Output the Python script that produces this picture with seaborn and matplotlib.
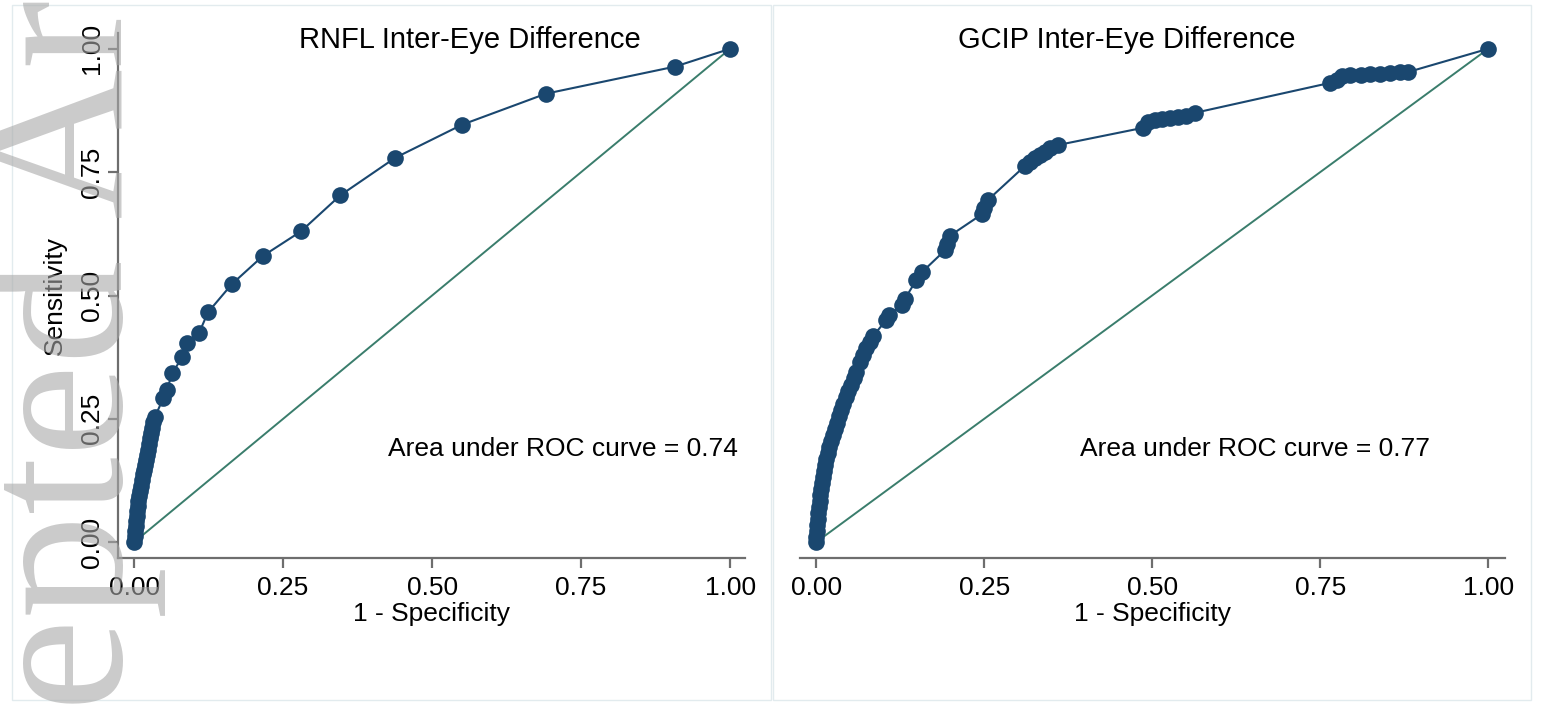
import numpy as np
import pandas as pd
import matplotlib
matplotlib.use('Agg')
import matplotlib.pyplot as plt
import seaborn as sns
from matplotlib.patches import Rectangle

# ROC points (1 - specificity, sensitivity)
rnfl_fpr = [0.000, 0.002, 0.002, 0.003, 0.003, 0.005, 0.005, 0.007, 0.007, 0.008,
            0.010, 0.012, 0.013, 0.015, 0.017, 0.018, 0.020, 0.022, 0.023, 0.025,
            0.027, 0.029, 0.030, 0.032, 0.035, 0.049, 0.055, 0.064, 0.081, 0.089,
            0.109, 0.124, 0.164, 0.216, 0.280, 0.346, 0.438, 0.550, 0.691, 0.908,
            1.000]
rnfl_tpr = [0.000, 0.012, 0.022, 0.032, 0.043, 0.053, 0.063, 0.074, 0.084, 0.093,
            0.104, 0.114, 0.126, 0.138, 0.146, 0.156, 0.166, 0.176, 0.187, 0.199,
            0.211, 0.221, 0.231, 0.243, 0.254, 0.292, 0.308, 0.343, 0.375, 0.403,
            0.424, 0.466, 0.523, 0.580, 0.630, 0.703, 0.779, 0.846, 0.909, 0.964,
            1.000]

gcip_fpr = [0.000, 0.000, 0.001, 0.001, 0.003, 0.003, 0.004, 0.006, 0.006, 0.007,
            0.009, 0.010, 0.012, 0.013, 0.015, 0.018, 0.019, 0.022, 0.025, 0.028,
            0.031, 0.034, 0.037, 0.040, 0.045, 0.048, 0.052, 0.057, 0.060, 0.065,
            0.070, 0.074, 0.080, 0.085, 0.104, 0.109, 0.128, 0.132, 0.149, 0.158,
            0.192, 0.195, 0.199, 0.247, 0.250, 0.256, 0.311, 0.318, 0.326, 0.333,
            0.341, 0.348, 0.360, 0.487, 0.494, 0.504, 0.515, 0.527, 0.539, 0.551,
            0.563, 0.765, 0.775, 0.783, 0.795, 0.810, 0.824, 0.839, 0.854, 0.869,
            0.881, 1.000]
gcip_tpr = [0.000, 0.010, 0.022, 0.034, 0.047, 0.059, 0.071, 0.083, 0.095, 0.108,
            0.120, 0.132, 0.144, 0.156, 0.168, 0.181, 0.193, 0.205, 0.217, 0.229,
            0.241, 0.256, 0.268, 0.280, 0.294, 0.306, 0.318, 0.333, 0.345, 0.365,
            0.379, 0.394, 0.406, 0.418, 0.450, 0.460, 0.481, 0.493, 0.531, 0.548,
            0.592, 0.604, 0.621, 0.665, 0.677, 0.694, 0.763, 0.771, 0.779, 0.785,
            0.791, 0.799, 0.805, 0.840, 0.852, 0.856, 0.858, 0.860, 0.862, 0.864,
            0.870, 0.931, 0.937, 0.945, 0.947, 0.947, 0.949, 0.949, 0.951, 0.953,
            0.953, 1.000]

ref_line = [0.0, 1.0]
tick_vals = [0.0, 0.25, 0.5, 0.75, 1.0]
tick_labels = ['0.00', '0.25', '0.50', '0.75', '1.00']
titles = ['RNFL Inter-Eye Difference', 'GCIP Inter-Eye Difference']
auc_values = [0.74, 0.77]

sns.set_theme(style='white')
plt.rcParams['font.family'] = ['Liberation Sans', 'DejaVu Sans']
plt.rcParams['text.color'] = 'black'
plt.rcParams['axes.labelcolor'] = 'black'
plt.rcParams['xtick.labelcolor'] = 'black'
plt.rcParams['ytick.labelcolor'] = 'black'

W, H = 1543, 708
fig = plt.figure(figsize=(W / 100, H / 100), dpi=100)

navy = '#1a476f'
teal = '#3a7d6c'
axis_grey = '#6e6e6e'

# panel frames
for x0, x1 in [(12, 771), (773, 1531)]:
    fig.add_artist(Rectangle((x0 / W, 1 - 700 / H), (x1 - x0) / W, 695 / H,
                             transform=fig.transFigure, fill=False,
                             ec='#e2ebee', lw=1.0))

panels = [
    dict(fpr=rnfl_fpr, tpr=rnfl_tpr, left=118, right=745, xlim=(-0.027, 1.025),
         title_x=470, auc_x=563, show_y=True),
    dict(fpr=gcip_fpr, tpr=gcip_tpr, left=800, right=1505, xlim=(-0.024, 1.025),
         title_x=1127, auc_x=1255, show_y=False),
]

for i, p in enumerate(panels):
    ax = fig.add_axes([p['left'] / W, (H - 558) / H, (p['right'] - p['left']) / W, 525 / H])
    df = pd.DataFrame({'fpr': p['fpr'], 'tpr': p['tpr']})
    sns.lineplot(x=ref_line, y=ref_line, ax=ax, color=teal, lw=1.4, estimator=None)
    sns.lineplot(data=df, x='fpr', y='tpr', ax=ax, color=navy, lw=1.5,
                 estimator=None, sort=False, marker='o', markersize=12,
                 markeredgewidth=0)
    ax.set_xlim(*p['xlim'])
    ax.set_ylim(-0.032, 1.032)
    ax.set_xticks(tick_vals)
    ax.set_xticklabels(tick_labels, fontsize=19)
    ax.set_xlabel('1 - Specificity', fontsize=19)
    ax.xaxis.set_label_coords(0.5, -0.084)
    ax.tick_params(axis='x', length=7, width=1.6, color=axis_grey, pad=6,
                   direction='out', bottom=True)
    for s in ['top', 'right']:
        ax.spines[s].set_visible(False)
    ax.spines['bottom'].set_color(axis_grey)
    ax.spines['bottom'].set_linewidth(1.6)
    if p['show_y']:
        ax.set_yticks(tick_vals)
        ax.set_yticklabels(tick_labels, fontsize=19, rotation=90, va='center')
        ax.tick_params(axis='y', length=7, width=1.6, color=axis_grey, pad=3,
                       direction='out', left=True)
        ax.spines['left'].set_color(axis_grey)
        ax.spines['left'].set_linewidth(1.6)
        ax.set_ylabel('Sensitivity', fontsize=19)
        ax.yaxis.set_label_coords(-0.081, 0.5)
    else:
        ax.spines['left'].set_visible(False)
        ax.set_yticks([])
        ax.set_ylabel('')
    ax.set_facecolor('none')
    fig.text(p['title_x'] / W, 1 - 40 / H, titles[i], fontsize=21,
             ha='center', va='center', color='black')
    fig.text(p['auc_x'] / W, 1 - 449 / H,
             f'Area under ROC curve = {auc_values[i]:.2f}', fontsize=19,
             ha='center', va='center', color='black')

# journal watermark along the left edge
fig.text(122 / W, -0.477, 'Accepted Article', rotation=90, rotation_mode='anchor',
         ha='left', va='baseline', fontsize=150,
         family=['Liberation Serif', 'DejaVu Serif', 'serif'],
         color='#a8a8a8', alpha=0.6, zorder=10)

fig.savefig('out.png', dpi=100)
